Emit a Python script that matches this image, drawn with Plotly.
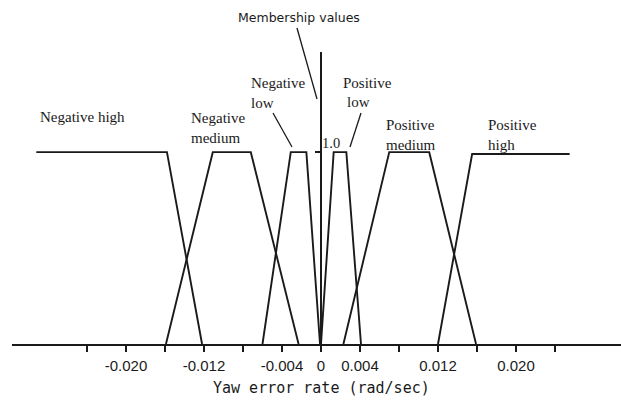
import plotly.graph_objects as go

# ---- data: membership functions (x breakpoints in rad/sec, membership values) ----
names = ["Negative high", "Negative medium", "Negative low",
         "Positive low", "Positive medium", "Positive high"]
nh_x = [-0.0292, -0.0158, -0.0122]
nh_y = [1, 1, 0]
nm_x = [-0.0159, -0.0111, -0.0072, -0.0023]
nm_y = [0, 1, 1, 0]
nl_x = [-0.0060, -0.0031, -0.0015, -0.0001]
nl_y = [0, 1, 1, 0]
pl_x = [0.0000, 0.0013, 0.0026, 0.0041]
pl_y = [0, 1, 1, 0]
pm_x = [0.0023, 0.0070, 0.0111, 0.0159]
pm_y = [0, 1, 1, 0]
ph_x = [0.0120, 0.0155, 0.0255]
ph_y = [0, 0.99, 0.99]

tick_vals = [-0.024, -0.020, -0.016, -0.012, -0.008, -0.004, 0.0,
             0.004, 0.008, 0.012, 0.016, 0.020, 0.024]
tick_text = ["", "-0.020", "", "-0.012", "", "-0.004", "0",
             "0.004", "", "0.012", "", "0.020", ""]

# ---- layout geometry (pixels) ----
W, H = 621, 400
ML, MR, MT, MB = 12, 0, 52, 56
X_RANGE = [-0.031692, 0.030769]
Y_RANGE = [0, 1.522]
PW, PH = W - ML - MR, H - MT - MB

def px(xp):
    return (xp - ML) / PW

def py(yp):
    return (H - MB - yp) / PH

LINE = "#1a1a1a"
SERIF = "Liberation Serif"

fig = go.Figure()
for nm, xs, ys in zip(names, [nh_x, nm_x, nl_x, pl_x, pm_x, ph_x],
                      [nh_y, nm_y, nl_y, pl_y, pm_y, ph_y]):
    fig.add_trace(go.Scatter(x=xs, y=ys, mode="lines", name=nm,
                             line=dict(color=LINE, width=1.9),
                             showlegend=False, hoverinfo="name"))

def label(text, xl, yc, size=14.5, font=SERIF, anchor="left"):
    fig.add_annotation(text=text, xref="paper", yref="paper",
                       x=px(xl), y=py(yc), xanchor=anchor, yanchor="middle",
                       showarrow=False, align="left",
                       font=dict(family=font, size=size, color="#1a1a1a"))

label("Negative high", 38, 117, size=15)
label("Negative<br>medium", 189, 128, size=15)
label("Negative<br>low", 249, 92.5, size=15)
label("Positive", 341, 83, size=15)
label("low", 345, 102, size=15)
label("Positive<br>medium", 384, 135, size=15)
label("Positive<br>high", 486, 135, size=15)
label("1.0", 320, 143, size=14.5)
label("Membership values", 299, 17, size=12.5, font="DejaVu Sans", anchor="center")
label("Yaw error rate (rad/sec)", 321.5, 388, size=15, font="DejaVu Sans Mono", anchor="center")

# leader lines (pixel coordinates -> paper)
leaders = [((297, 28), (317, 99)), ((273, 113), (292, 147)), ((361, 113), (350, 147))]
for (x0, y0), (x1, y1) in leaders:
    fig.add_shape(type="line", xref="paper", yref="paper",
                  x0=px(x0), y0=py(y0), x1=px(x1), y1=py(y1),
                  line=dict(color=LINE, width=1.3))

fig.update_layout(
    width=W, height=H,
    margin=dict(l=ML, r=MR, t=MT, b=MB, pad=0),
    paper_bgcolor="white", plot_bgcolor="white",
    xaxis=dict(range=X_RANGE, showgrid=False, zeroline=False,
               showline=True, linecolor=LINE, linewidth=2,
               ticks="outside", ticklen=6, tickwidth=2, tickcolor=LINE,
               tickvals=tick_vals, ticktext=tick_text,
               ticklabelstandoff=1,
               tickfont=dict(family="Liberation Sans", size=15, color="#1a1a1a")),
    yaxis=dict(range=Y_RANGE, showgrid=False, zeroline=False,
               anchor="free", position=px(321),
               showline=True, linecolor=LINE, linewidth=1.8,
               ticks="outside", ticklen=5, tickwidth=1.5, tickcolor=LINE,
               tickvals=[1], showticklabels=False),
)

fig.write_html("out.html",
               config={"displayModeBar": False},
               post_script="document.body.style.margin='0';document.body.style.overflow='hidden';")
